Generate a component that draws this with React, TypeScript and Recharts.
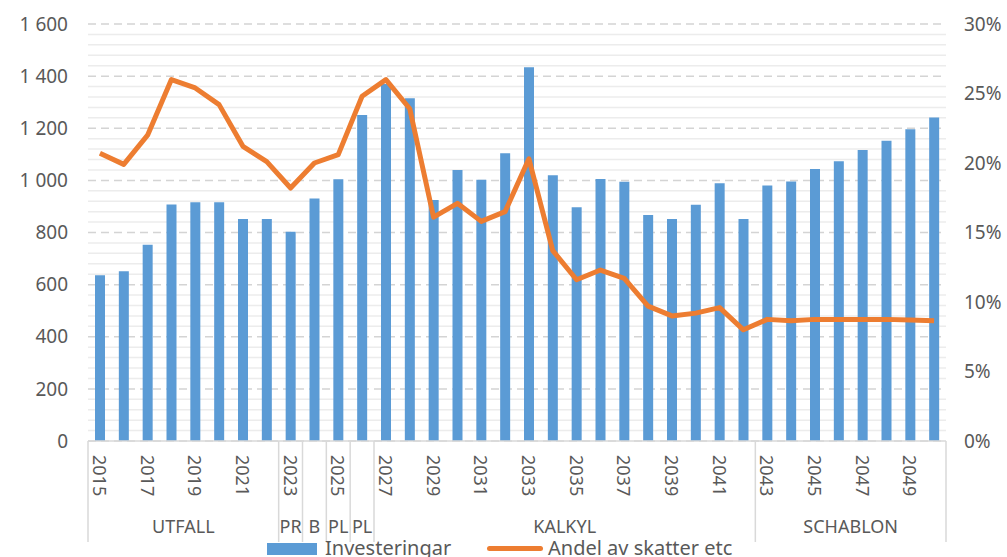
import React from 'react';
import {
  ComposedChart,
  Bar,
  Line,
  XAxis,
  YAxis,
  CartesianGrid,
} from 'recharts';

const years = [
  '2015', '2016', '2017', '2018', '2019', '2020', '2021', '2022', '2023', '2024',
  '2025', '2026', '2027', '2028', '2029', '2030', '2031', '2032', '2033', '2034',
  '2035', '2036', '2037', '2038', '2039', '2040', '2041', '2042', '2043', '2044',
  '2045', '2046', '2047', '2048', '2049', '2050',
];

const investeringar = [
  636, 651, 753, 907, 916, 916, 852, 852, 803, 930,
  1004, 1251, 1370, 1315, 925, 1040, 1002, 1104, 1434, 1020,
  897, 1005, 995, 867, 852, 906, 989, 852, 980, 996,
  1044, 1073, 1117, 1152, 1196, 1241,
];

// andel av skatter, i procent
const andel = [
  20.7, 19.9, 22.0, 26.0, 25.4, 24.2, 21.2, 20.1, 18.2, 20.0,
  20.6, 24.8, 26.0, 23.9, 16.1, 17.1, 15.8, 16.5, 20.3, 13.7,
  11.6, 12.3, 11.7, 9.7, 9.0, 9.2, 9.6, 8.0, 8.75, 8.65,
  8.75, 8.75, 8.75, 8.75, 8.7, 8.65,
];

const groupLabels = ['UTFALL', 'PR', 'B', 'PL', 'PL', 'KALKYL', 'SCHABLON'];
const groupSizes = [8, 1, 1, 1, 1, 16, 8];

const leftMax = 1600;
const leftTicks = [0, 200, 400, 600, 800, 1000, 1200, 1400, 1600];
const rightTicks = [0, 5, 10, 15, 20, 25, 30];
const minorTicks = Array.from({ length: 41 }, (_, i) => i * 40).filter((v) => v % 200 !== 0);

const W = 1007;
const H = 557;
const LEFT_W = 88;
const RIGHT_W = 61;
const TOP = 24;
const XAXIS_H = 116;
const BAND = (W - LEFT_W - RIGHT_W) / years.length;

const TEXT = '#595959';
const LINE_GREY = '#d9d9d9';
const FONT = '"Noto Sans", sans-serif';

const data = years.map((y, i) => ({
  year: y,
  investeringar: investeringar[i],
  andel: andel[i],
}));

const groupStarts: Record<number, number> = {};
let acc = 0;
groupSizes.forEach((s, g) => {
  groupStarts[acc] = g;
  acc += s;
});

const fmtLeft = (v: number) =>
  v >= 1000 ? `${Math.floor(v / 1000)} ${String(v % 1000).padStart(3, '0')}` : String(v);

function YearTick(props: any) {
  const { x, y, index, payload } = props;
  const parts: React.ReactNode[] = [];
  if (index % 2 === 0) {
    parts.push(
      <text
        key="t"
        x={x}
        y={y + 14}
        transform={`rotate(90, ${x}, ${y + 14})`}
        textAnchor="start"
        dominantBaseline="central"
        fill={TEXT}
        fontSize={18}
        fontFamily={FONT}
      >
        {payload.value}
      </text>
    );
  }
  const g = groupStarts[index];
  if (g !== undefined) {
    const left = x - BAND / 2;
    parts.push(
      <line key="l" x1={left} x2={left} y1={y} y2={y + 101} stroke={LINE_GREY} strokeWidth={1.5} />
    );
    parts.push(
      <text
        key="g"
        x={left + (groupSizes[g] * BAND) / 2}
        y={y + 85}
        textAnchor="middle"
        dominantBaseline="central"
        fill={TEXT}
        fontSize={18}
        fontFamily={FONT}
      >
        {groupLabels[g]}
      </text>
    );
  }
  if (index === years.length - 1) {
    const right = x + BAND / 2;
    parts.push(
      <line key="r" x1={right} x2={right} y1={y} y2={y + 101} stroke={LINE_GREY} strokeWidth={1.5} />
    );
  }
  return <g>{parts}</g>;
}

export default function App() {
  return (
    <div
      style={{
        position: 'absolute',
        left: 0,
        top: 0,
        width: W,
        height: H,
        overflow: 'hidden',
        background: '#fff',
        fontFamily: FONT,
      }}
    >
      <ComposedChart
        width={W}
        height={H}
        data={data}
        margin={{ top: TOP, right: 0, bottom: 0, left: 0 }}
      >
        <CartesianGrid
          yAxisId="left"
          vertical={false}
          stroke="#ececec"
          strokeWidth={1.5}
          horizontalCoordinatesGenerator={({ offset }: any) =>
            minorTicks.map((v) => offset.top + offset.height * (1 - v / leftMax))
          }
        />
        <CartesianGrid
          yAxisId="left"
          vertical={false}
          stroke="#d4d4d4"
          strokeWidth={1.5}
          strokeDasharray="8 5"
        />
        <XAxis
          dataKey="year"
          interval={0}
          height={XAXIS_H}
          tickLine={false}
          tickSize={0}
          tickMargin={0}
          axisLine={{ stroke: LINE_GREY, strokeWidth: 1.5 }}
          tick={<YearTick />}
        />
        <YAxis
          yAxisId="left"
          width={LEFT_W}
          domain={[0, leftMax]}
          ticks={leftTicks}
          tickFormatter={fmtLeft}
          axisLine={false}
          tickLine={false}
          tickSize={0}
          tickMargin={20}
          tick={{ fill: TEXT, fontSize: 19, fontFamily: FONT }}
        />
        <YAxis
          yAxisId="right"
          orientation="right"
          width={RIGHT_W}
          domain={[0, 30]}
          ticks={rightTicks}
          tickFormatter={(v: number) => `${v}%`}
          axisLine={false}
          tickLine={false}
          tickSize={0}
          tickMargin={18}
          tick={{ fill: TEXT, fontSize: 19, fontFamily: FONT, textAnchor: 'start' }}
        />
        <Bar
          yAxisId="left"
          dataKey="investeringar"
          name="Investeringar"
          fill="#5B9BD5"
          barSize={10}
          isAnimationActive={false}
        />
        <Line
          yAxisId="right"
          dataKey="andel"
          name="Andel av skatter etc"
          stroke="#ED7D31"
          strokeWidth={5}
          strokeLinejoin="round"
          dot={false}
          type="linear"
          isAnimationActive={false}
        />
      </ComposedChart>
      <div style={{ position: 'absolute', left: 267, top: 543, width: 50, height: 12, background: '#5B9BD5' }} />
      <div style={{ position: 'absolute', left: 325, top: 538, fontSize: 20, lineHeight: '20px', color: TEXT, whiteSpace: 'nowrap' }}>
        Investeringar
      </div>
      <div style={{ position: 'absolute', left: 487, top: 546, width: 56, height: 5, borderRadius: 3, background: '#ED7D31' }} />
      <div style={{ position: 'absolute', left: 548, top: 538, fontSize: 20, lineHeight: '20px', color: TEXT, whiteSpace: 'nowrap' }}>
        Andel av skatter etc
      </div>
    </div>
  );
}
